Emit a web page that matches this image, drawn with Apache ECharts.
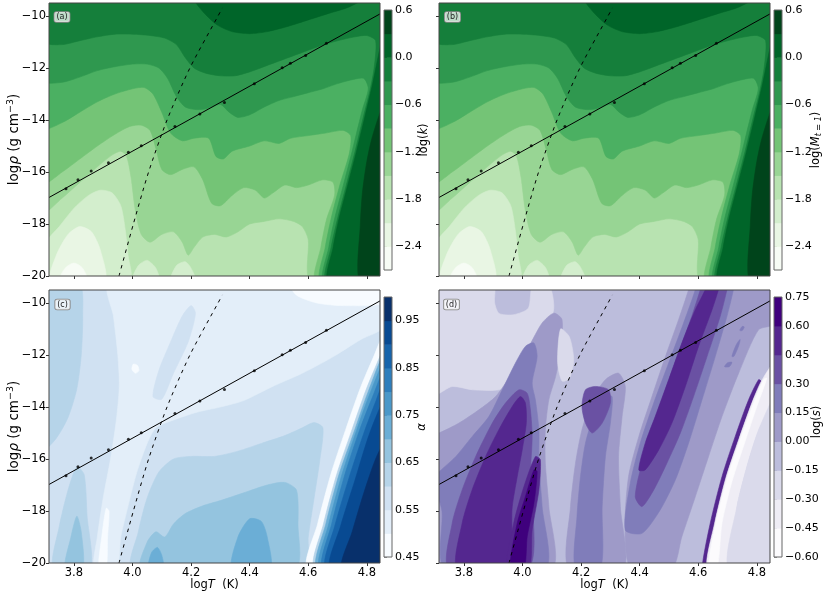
<!DOCTYPE html>
<html><head><meta charset="utf-8">
<script src="https://cdn.jsdelivr.net/npm/echarts@6.0.0/dist/echarts.min.js"></script>
<style>html,body{margin:0;padding:0;background:#fff;}#chart{width:831px;height:595px;}</style>
</head><body><div id="chart"></div>
<script>
// ---------- tick values ----------
const LOGT_TICKS = [3.8, 4.0, 4.2, 4.4, 4.6, 4.8];
const LOGRHO_TICKS = [-20, -18, -16, -14, -12, -10];

// ---------- contour levels (colorbars) ----------
const kLevels = [-2.7, -2.4, -2.1, -1.8, -1.5, -1.2, -0.9, -0.6, -0.3, 0.0, 0.3, 0.6];
const kTicks = [-2.4, -1.8, -1.2, -0.6, 0.0, 0.6];
const alphaLevels = [0.45, 0.50, 0.55, 0.60, 0.65, 0.70, 0.75, 0.80, 0.85, 0.90, 0.95, 1.00];
const alphaTicks = [0.45, 0.55, 0.65, 0.75, 0.85, 0.95];
const sLevels = [-0.60, -0.45, -0.30, -0.15, 0.00, 0.15, 0.30, 0.45, 0.60, 0.75];
const sTicks = [-0.60, -0.45, -0.30, -0.15, 0.00, 0.15, 0.30, 0.45, 0.60, 0.75];

// ---------- overlay lines ----------
const fitT = [3.715, 4.845];
const fitRho = [-16.98, -9.92];
const sampleT = [3.773, 3.814, 3.859, 3.918, 3.986, 4.030, 4.145, 4.230, 4.314, 4.416, 4.511, 4.539, 4.591, 4.662];
const sampleRho = [-16.64, -16.30, -15.96, -15.64, -15.24, -14.99, -14.25, -13.77, -13.33, -12.61, -11.99, -11.82, -11.52, -11.05];
const dashT = [3.954, 4.003, 4.055, 4.118, 4.196, 4.292, 4.307];
const dashRho = [-20.0, -18.0, -16.0, -14.0, -12.0, -10.0, -9.69];

// ---------- contour band regions: [band index, [[logT, logRho], ...]] ----------
// panel (a): log(k)
const kRegions = [
 [3, [[3.70,-9.3],[4.86,-9.3],[4.86,-20.2],[3.70,-20.2]]],
 [4, [[3.70,-9.3],[3.70,-17.5],[3.76,-17.0],[3.82,-16.4],[3.88,-15.8],[3.93,-15.35],[3.96,-15.2],[3.98,-15.4],[3.995,-16.2],[4.01,-17.5],[4.03,-18.4],[4.06,-18.7],[4.10,-18.4],[4.14,-18.3],[4.17,-18.7],[4.19,-19.2],[4.21,-18.9],[4.24,-18.5],[4.28,-18.4],[4.32,-18.5],[4.36,-18.3],[4.40,-18.0],[4.45,-17.9],[4.50,-17.8],[4.55,-17.9],[4.58,-18.1],[4.60,-18.6],[4.608,-20.2],[4.86,-20.2],[4.86,-9.3]]],
 [5, [[3.70,-9.3],[3.70,-16.4],[3.76,-16.0],[3.82,-15.5],[3.88,-15.0],[3.94,-14.55],[3.99,-14.25],[4.03,-14.2],[4.06,-14.4],[4.08,-15.1],[4.10,-15.9],[4.13,-16.1],[4.17,-15.9],[4.21,-15.8],[4.24,-16.3],[4.27,-17.2],[4.30,-17.3],[4.34,-16.9],[4.38,-16.6],[4.42,-16.7],[4.45,-17.0],[4.48,-16.8],[4.52,-16.5],[4.56,-16.6],[4.60,-16.5],[4.65,-16.3],[4.685,-16.4],[4.69,-16.9],[4.663,-17.8],[4.643,-18.9],[4.626,-20.2],[4.86,-20.2],[4.86,-9.3]]],
 [6, [[3.70,-9.3],[3.70,-14.3],[3.76,-14.1],[3.82,-13.7],[3.88,-13.3],[3.94,-13.0],[4.00,-12.8],[4.04,-12.75],[4.07,-13.0],[4.10,-13.7],[4.13,-14.5],[4.17,-14.8],[4.21,-14.7],[4.26,-14.7],[4.285,-15.4],[4.31,-15.5],[4.34,-15.2],[4.40,-15.0],[4.45,-14.8],[4.50,-14.9],[4.54,-14.7],[4.60,-14.6],[4.66,-14.5],[4.72,-14.4],[4.745,-14.6],[4.74,-15.3],[4.708,-16.5],[4.678,-17.8],[4.658,-18.9],[4.642,-20.2],[4.86,-20.2],[4.86,-9.3]]],
 [7, [[3.70,-9.3],[3.70,-12.5],[3.76,-12.55],[3.82,-12.35],[3.88,-12.1],[3.94,-11.95],[4.00,-11.85],[4.05,-11.85],[4.09,-12.0],[4.12,-12.4],[4.15,-13.1],[4.18,-13.5],[4.22,-13.6],[4.26,-13.55],[4.30,-13.4],[4.33,-13.7],[4.36,-13.9],[4.40,-13.8],[4.45,-13.5],[4.50,-13.25],[4.55,-13.1],[4.60,-12.95],[4.65,-12.8],[4.70,-12.6],[4.75,-12.45],[4.79,-12.4],[4.805,-12.8],[4.785,-13.6],[4.765,-14.5],[4.75,-15.2],[4.72,-16.5],[4.69,-17.8],[4.67,-18.9],[4.653,-20.2],[4.86,-20.2],[4.86,-9.3]]],
 [8, [[3.70,-9.3],[3.70,-11.0],[3.76,-11.1],[3.82,-10.95],[3.88,-10.8],[3.94,-10.7],[4.00,-10.7],[4.06,-10.75],[4.11,-10.85],[4.15,-11.1],[4.18,-11.6],[4.21,-12.0],[4.25,-12.2],[4.30,-12.3],[4.35,-12.3],[4.40,-12.15],[4.46,-11.9],[4.52,-11.65],[4.58,-11.4],[4.64,-11.15],[4.70,-10.95],[4.76,-10.8],[4.80,-10.75],[4.83,-10.95],[4.825,-12.0],[4.81,-12.9],[4.79,-13.8],[4.76,-15.2],[4.73,-16.5],[4.70,-17.8],[4.678,-18.9],[4.661,-20.2],[4.86,-20.2],[4.86,-9.3]]],
 [9, [[4.21,-9.3],[4.22,-9.55],[4.25,-9.95],[4.29,-10.35],[4.34,-10.6],[4.40,-10.68],[4.46,-10.6],[4.53,-10.4],[4.60,-10.15],[4.67,-9.9],[4.74,-9.65],[4.79,-9.3]]],
 [9, [[4.86,-10.6],[4.84,-11.5],[4.82,-12.6],[4.795,-13.8],[4.765,-15.2],[4.735,-16.5],[4.705,-17.8],[4.685,-18.9],[4.668,-20.2],[4.86,-20.2]]],
 [10, [[4.86,-13.4],[4.82,-14.6],[4.80,-15.6],[4.785,-16.8],[4.778,-18.0],[4.775,-20.2],[4.86,-20.2]]],
 [2, [[3.70,-18.8],[3.75,-18.1],[3.80,-17.4],[3.85,-16.9],[3.89,-16.7],[3.93,-16.8],[3.96,-17.3],[3.975,-18.2],[3.985,-19.2],[3.99,-20.2],[3.70,-20.2]]],
 [2, [[4.00,-20.2],[4.02,-19.6],[4.05,-19.4],[4.08,-19.7],[4.09,-20.2]]],
 [2, [[4.13,-20.2],[4.15,-19.6],[4.18,-19.45],[4.20,-19.7],[4.215,-20.2]]],
 [1, [[3.72,-20.2],[3.74,-19.2],[3.78,-18.4],[3.82,-18.1],[3.86,-18.3],[3.89,-19.0],[3.905,-20.2]]],
 [0, [[3.75,-20.2],[3.77,-19.7],[3.80,-19.5],[3.83,-19.7],[3.845,-20.2]]]
];
// panel (b): log(M_t=1) reads the same as panel (a)
const mRegions = kRegions;

// panel (c): alpha
const alphaRegions = [
 [2, [[3.70,-9.3],[4.86,-9.3],[4.86,-20.2],[3.70,-20.2]]],
 [3, [[3.70,-9.3],[3.82,-9.3],[3.83,-10.5],[3.825,-12.0],[3.81,-13.3],[3.78,-14.4],[3.74,-15.2],[3.70,-15.6]]],
 [3, [[3.73,-20.2],[3.75,-18.6],[3.78,-17.2],[3.81,-16.3],[3.835,-16.6],[3.845,-18.2],[3.855,-20.2]]],
 [4, [[3.77,-20.2],[3.79,-19.0],[3.81,-18.2],[3.825,-18.8],[3.83,-20.2]]],
 [1, [[3.92,-9.3],[4.86,-9.3],[4.86,-10.9],[4.78,-11.4],[4.68,-12.1],[4.58,-12.7],[4.48,-13.2],[4.38,-13.75],[4.30,-14.0],[4.22,-14.2],[4.14,-14.5],[4.08,-14.8],[4.05,-15.4],[4.015,-16.5],[3.985,-17.8],[3.96,-19.0],[3.945,-20.2],[3.87,-20.2],[3.88,-19.0],[3.90,-17.5],[3.925,-16.0],[3.945,-14.5],[3.955,-13.2],[3.95,-12.0],[3.935,-10.5]]],
 [0, [[3.885,-20.2],[3.895,-19.0],[3.91,-17.9],[3.92,-18.0],[3.915,-19.0],[3.91,-20.2]]],
 [2, [[4.07,-13.6],[4.09,-12.6],[4.13,-11.5],[4.17,-10.5],[4.20,-10.1],[4.215,-10.4],[4.19,-11.5],[4.14,-12.7],[4.10,-13.7]]],
 [0, [[4.54,-9.3],[4.56,-9.7],[4.63,-10.0],[4.72,-10.1],[4.86,-10.0],[4.86,-9.3]]],
 [0, [[4.003,-12.35],[4.017,-12.4],[4.022,-12.6],[4.01,-12.7],[3.998,-12.55]]],
 [3, [[4.00,-20.2],[4.02,-18.8],[4.05,-17.5],[4.09,-16.5],[4.14,-16.0],[4.20,-15.9],[4.28,-15.9],[4.36,-15.7],[4.44,-15.4],[4.52,-15.1],[4.58,-14.8],[4.62,-14.6],[4.65,-14.8],[4.64,-16.0],[4.62,-17.5],[4.60,-19.0],[4.59,-20.2]]],
 [4, [[4.03,-20.2],[4.05,-19.2],[4.08,-18.8],[4.11,-19.0],[4.14,-18.5],[4.18,-18.1],[4.24,-17.8],[4.30,-17.6],[4.38,-17.3],[4.46,-17.0],[4.52,-16.9],[4.56,-17.2],[4.565,-18.5],[4.555,-20.2]]],
 [5, [[4.055,-20.2],[4.065,-19.6],[4.085,-19.4],[4.10,-19.7],[4.105,-20.2]]],
 [5, [[4.34,-20.2],[4.36,-19.0],[4.40,-18.3],[4.44,-18.4],[4.46,-19.0],[4.47,-20.2]]],
 [0, [[4.598,-20.2],[4.632,-18.5],[4.677,-16.6],[4.727,-14.9],[4.777,-13.3],[4.822,-12.1],[4.86,-11.2],[4.86,-20.2]]],
 [3, [[4.622,-20.2],[4.652,-18.5],[4.697,-16.6],[4.747,-14.95],[4.797,-13.35],[4.845,-12.05],[4.86,-11.7],[4.86,-20.2]]],
 [5, [[4.63,-20.2],[4.66,-18.5],[4.705,-16.6],[4.755,-15.0],[4.805,-13.4],[4.86,-12.0],[4.86,-20.2]]],
 [6, [[4.64,-20.2],[4.67,-18.5],[4.715,-16.6],[4.765,-14.9],[4.81,-13.5],[4.86,-12.3],[4.86,-20.2]]],
 [7, [[4.65,-20.2],[4.68,-18.5],[4.725,-16.6],[4.775,-14.9],[4.82,-13.6],[4.86,-12.6],[4.86,-20.2]]],
 [8, [[4.66,-20.2],[4.69,-18.6],[4.74,-16.7],[4.79,-15.0],[4.83,-13.8],[4.86,-13.0],[4.86,-20.2]]],
 [9, [[4.675,-20.2],[4.71,-18.6],[4.76,-16.8],[4.81,-15.0],[4.86,-13.8],[4.86,-20.2]]],
 [10, [[4.715,-20.2],[4.75,-18.8],[4.79,-17.3],[4.83,-16.0],[4.86,-15.4],[4.86,-20.2]]]
];

// panel (d): log(s)
const sRegions = [
 [3, [[3.70,-9.3],[4.86,-9.3],[4.86,-20.2],[3.70,-20.2]]],
 [2, [[3.70,-9.3],[3.90,-9.3],[3.905,-10.0],[3.92,-10.4],[3.97,-10.45],[4.02,-10.2],[4.035,-9.3],[4.09,-9.3],[4.107,-10.13],[4.09,-11.03],[4.056,-12.06],[4.0,-12.95],[3.92,-13.34],[3.83,-13.34],[3.76,-13.21],[3.70,-13.5]]],
 [4, [[3.70,-15.0],[3.715,-15.0],[3.783,-14.62],[3.851,-14.11],[3.908,-13.6],[3.965,-12.7],[4.022,-11.67],[4.067,-10.77],[4.107,-10.39],[4.135,-10.64],[4.13,-11.8],[4.113,-12.83],[4.09,-13.72],[4.078,-14.88],[4.078,-16.16],[4.09,-17.83],[4.10,-20.2],[3.70,-20.2]]],
 [5, [[3.70,-16.68],[3.772,-15.91],[3.828,-15.14],[3.885,-14.37],[3.931,-13.34],[3.976,-12.31],[4.01,-11.67],[4.039,-11.54],[4.05,-12.06],[4.033,-13.08],[4.044,-13.72],[4.056,-14.88],[4.056,-16.16],[4.067,-17.83],[4.078,-20.2],[3.735,-20.2],[3.725,-18.0],[3.70,-17.0]]],
 [6, [[3.749,-20.2],[3.76,-18.47],[3.794,-17.19],[3.84,-15.91],[3.897,-14.62],[3.942,-13.85],[3.988,-13.34],[4.016,-13.47],[4.027,-14.11],[4.033,-15.14],[4.027,-16.55],[4.022,-20.2]]],
 [7, [[3.777,-20.2],[3.794,-18.47],[3.828,-17.19],[3.874,-15.91],[3.919,-14.88],[3.965,-13.98],[3.993,-13.6],[4.01,-13.85],[4.013,-14.62],[3.999,-15.65],[3.982,-16.68],[3.965,-17.83],[3.948,-20.2]]],
 [7, [[3.948,-20.2],[3.97,-18.47],[4.005,-17.06],[4.044,-15.91],[4.061,-16.03],[4.056,-17.19],[4.033,-18.73],[4.022,-20.2]]],
 [8, [[3.959,-20.2],[3.982,-18.47],[4.01,-17.45],[4.039,-16.42],[4.05,-16.48],[4.039,-17.7],[4.016,-18.99],[4.005,-20.2]]],
 [2, [[4.13,-11.0],[4.16,-11.3],[4.175,-12.2],[4.16,-12.9],[4.135,-13.0],[4.12,-12.3]]],
 [4, [[4.158,-20.2],[4.164,-17.83],[4.181,-16.16],[4.203,-14.88],[4.238,-13.72],[4.283,-12.95],[4.328,-12.7],[4.351,-13.21],[4.34,-14.37],[4.328,-15.91],[4.334,-17.83],[4.345,-20.2]]],
 [5, [[4.181,-20.2],[4.186,-18.22],[4.198,-16.68],[4.215,-15.39],[4.243,-14.37],[4.283,-13.6],[4.306,-13.6],[4.30,-14.62],[4.283,-15.91],[4.272,-17.83],[4.266,-20.2]]],
 [6, [[4.203,-13.98],[4.215,-13.34],[4.249,-13.21],[4.294,-13.34],[4.30,-13.85],[4.272,-14.62],[4.238,-15.0],[4.215,-14.62]]],
 [4, [[4.37,-20.2],[4.35,-18.6],[4.362,-16.68],[4.397,-15.14],[4.442,-13.6],[4.488,-12.06],[4.533,-10.64],[4.567,-9.49],[4.57,-9.3],[4.86,-9.3],[4.86,-10.8],[4.806,-11.03],[4.738,-12.7],[4.681,-14.37],[4.635,-15.91],[4.59,-17.45],[4.544,-18.99],[4.51,-20.2]]],
 [5, [[4.351,-18.73],[4.368,-16.93],[4.402,-15.39],[4.448,-13.85],[4.499,-12.31],[4.55,-10.77],[4.59,-9.49],[4.59,-9.3],[4.72,-9.3],[4.72,-9.49],[4.698,-10.51],[4.658,-12.06],[4.613,-13.72],[4.567,-15.39],[4.522,-16.8],[4.47,-17.96],[4.408,-18.86]]],
 [6, [[4.385,-17.45],[4.408,-16.16],[4.442,-14.88],[4.488,-13.34],[4.533,-11.93],[4.578,-10.51],[4.607,-9.49],[4.61,-9.3],[4.70,-9.3],[4.698,-9.49],[4.675,-10.51],[4.63,-12.06],[4.584,-13.6],[4.539,-15.0],[4.493,-16.16],[4.448,-17.19],[4.408,-17.83]]],
 [7, [[4.397,-16.42],[4.419,-15.39],[4.453,-14.37],[4.499,-12.95],[4.544,-11.54],[4.59,-10.26],[4.624,-9.49],[4.627,-9.3],[4.672,-9.3],[4.669,-9.49],[4.647,-10.26],[4.601,-11.67],[4.556,-13.21],[4.51,-14.62],[4.465,-15.65],[4.419,-16.42]]],
 [7, [[4.613,-20.2],[4.641,-18.47],[4.681,-16.68],[4.726,-15.14],[4.772,-13.72],[4.806,-12.95],[4.815,-13.02],[4.783,-13.85],[4.738,-15.26],[4.694,-16.74],[4.656,-18.47],[4.63,-20.2]]],
 [1, [[4.63,-20.2],[4.656,-18.47],[4.694,-16.74],[4.738,-15.26],[4.783,-13.85],[4.815,-13.02],[4.86,-12.3],[4.86,-13.7],[4.806,-14.88],[4.766,-16.29],[4.732,-17.83],[4.703,-20.2]]],
 [0, [[4.635,-20.2],[4.66,-18.47],[4.699,-16.74],[4.743,-15.26],[4.789,-13.85],[4.823,-12.95],[4.834,-12.89],[4.80,-13.98],[4.758,-15.39],[4.715,-16.87],[4.681,-18.47],[4.664,-20.2]]],
 [2, [[4.703,-20.2],[4.732,-17.83],[4.766,-16.29],[4.806,-14.88],[4.86,-13.7],[4.86,-20.2]]],
 [5, [[4.69,-12.45],[4.70,-12.3],[4.715,-12.28],[4.706,-12.45]]],
 [5, [[4.715,-12.05],[4.73,-11.6],[4.743,-11.4],[4.738,-11.65],[4.722,-12.05]]],
 [5, [[4.742,-11.05],[4.75,-10.9],[4.757,-10.92],[4.75,-11.06]]]
];

// ---------- colour maps (matplotlib Greens / Blues / Purples at level positions) ----------
const GREENS = ['#f7fcf5','#e9f6e4','#d3eecd','#b8e3b1','#98d594','#74c476','#4bb062','#2f984f','#157f3b','#006529','#00441b'];
const BLUES = ['#f7fbff','#e3eef9','#d0e1f2','#b6d4e9','#94c4df','#6baed6','#4a98c9','#2e7ebc','#1764ab','#084a92','#08306b'];
const PURPLES = ['#fcfbfd','#efedf5','#dadaeb','#bcbddc','#9e9ac8','#807dba','#6a51a3','#54278f','#3f007d'];

// ---------- layout ----------
const FONT = 'DejaVu Sans';
const minus = s => s.replace('-', '\u2212');
const PANELS = [
  {left: 49,  top: 3,   regions: kRegions,     colors: GREENS,  xl: false, yl: true},
  {left: 439, top: 3,   regions: mRegions,     colors: GREENS,  xl: false, yl: false},
  {left: 49,  top: 290, regions: alphaRegions, colors: BLUES,   xl: true,  yl: true},
  {left: 439, top: 290, regions: sRegions,     colors: PURPLES, xl: true,  yl: false}
];
const BARS = [
  {left: 384, top: 10,  levels: kLevels,     ticks: kTicks,     colors: GREENS,  dec: 1},
  {left: 774, top: 10,  levels: kLevels,     ticks: kTicks,     colors: GREENS,  dec: 1},
  {left: 384, top: 297, levels: alphaLevels, ticks: alphaTicks, colors: BLUES,   dec: 2},
  {left: 774, top: 297, levels: sLevels,     ticks: sTicks,     colors: PURPLES, dec: 2}
];

const grids = [], xAxes = [], yAxes = [], series = [];

PANELS.forEach((p, i) => {
  grids.push({left: p.left, top: p.top, width: 331, height: 273, show: true,
    borderColor: '#444', borderWidth: 1, backgroundColor: 'transparent', z: 5, outerBoundsMode: 'none', containLabel: false});
  xAxes.push({type: 'value', gridIndex: i, min: 3.715, max: 4.845,
    axisLine: {show: false}, splitLine: {show: false},
    axisTick: {show: true, length: 3, customValues: LOGT_TICKS, lineStyle: {color: '#333', width: 1}},
    axisLabel: {show: p.xl, customValues: LOGT_TICKS, formatter: v => v.toFixed(1),
      fontSize: 11.5, fontFamily: FONT, color: '#000', margin: 4}});
  yAxes.push({type: 'value', gridIndex: i, min: -20, max: -9.5,
    axisLine: {show: false}, splitLine: {show: false},
    axisTick: {show: true, length: 3, customValues: LOGRHO_TICKS, lineStyle: {color: '#333', width: 1}},
    axisLabel: {show: p.yl, customValues: LOGRHO_TICKS, formatter: v => minus(String(Math.round(v))),
      fontSize: 11.5, fontFamily: FONT, color: '#000', margin: 3}});
  const regs = p.regions, cols = p.colors;
  series.push({
    type: 'custom', xAxisIndex: i, yAxisIndex: i, clip: true, silent: true, z: 1,
    data: regs.map((r, k) => [r[1][0][0], r[1][0][1], k]),
    renderItem: (params, api) => {
      const k = api.value(2);
      const reg = regs[k];
      const pts = reg[1].map(q => api.coord(q));
      const c = cols[reg[0]];
      return {type: 'polygon', z2: k, shape: {points: pts, smooth: 0.25},
        style: {fill: c, stroke: c, lineWidth: 0.6}};
    }
  });
  series.push({type: 'line', xAxisIndex: i, yAxisIndex: i, z: 3, silent: true,
    data: fitT.map((t, j) => [t, fitRho[j]]), symbol: 'none',
    lineStyle: {color: '#000', width: 1}});
  series.push({type: 'line', xAxisIndex: i, yAxisIndex: i, z: 3, silent: true, smooth: 0.25,
    data: dashT.map((t, j) => [t, dashRho[j]]), symbol: 'none',
    lineStyle: {color: '#000', width: 1, type: [3.5, 4.5]}});
  series.push({type: 'scatter', xAxisIndex: i, yAxisIndex: i, z: 4, silent: true,
    data: sampleT.map((t, j) => [t, sampleRho[j]]), symbol: 'circle', symbolSize: 3,
    itemStyle: {color: '#000'}});
});

BARS.forEach((b, j) => {
  const gi = 4 + j;
  const lv = b.levels, cols = b.colors;
  grids.push({left: b.left, top: b.top, width: 8, height: 260, show: true,
    borderColor: '#666', borderWidth: 1, backgroundColor: 'transparent', z: 5, outerBoundsMode: 'none', containLabel: false});
  xAxes.push({type: 'value', gridIndex: gi, min: 0, max: 1, show: false});
  const fmt = v => minus((Math.abs(v) < 1e-9 ? 0 : v).toFixed(b.dec));
  yAxes.push({type: 'value', gridIndex: gi, position: 'right', min: lv[0], max: lv[lv.length - 1],
    axisLine: {show: false}, splitLine: {show: false},
    axisTick: {show: true, length: 3, customValues: b.ticks, lineStyle: {color: '#333', width: 1}},
    axisLabel: {show: true, customValues: b.ticks, formatter: fmt,
      fontSize: 11, fontFamily: FONT, color: '#000', margin: 3}});
  series.push({
    type: 'custom', xAxisIndex: gi, yAxisIndex: gi, silent: true, z: 1,
    data: lv.slice(0, -1).map((v, k) => [0.5, (v + lv[k + 1]) / 2, k]),
    renderItem: (params, api) => {
      const k = api.value(2);
      const p0 = api.coord([0, lv[k]]);
      const p1 = api.coord([1, lv[k + 1]]);
      return {type: 'rect', shape: {x: p0[0], y: p1[1], width: p1[0] - p0[0], height: p0[1] - p1[1] + 0.5},
        style: {fill: cols[k]}};
    }
  });
});

// ---------- texts ----------
const baseRich = (fs) => ({
  n: {fontSize: fs, fontFamily: FONT, fill: '#000', lineHeight: fs + 3},
  i: {fontSize: fs, fontFamily: FONT, fontStyle: 'italic', fill: '#000', lineHeight: fs + 3},
  sup: {fontSize: fs * 0.7, fontFamily: FONT, fill: '#000', lineHeight: fs * 0.55, verticalAlign: 'top'},
  sub: {fontSize: fs * 0.7, fontFamily: FONT, fontStyle: 'italic', fill: '#000', lineHeight: fs * 0.55, verticalAlign: 'bottom'}
});
const vText = (x, y, text, fs) => ({type: 'text', x: x, y: y, rotation: Math.PI / 2, z: 20,
  style: {text: text, align: 'center', verticalAlign: 'middle', fontSize: fs, fontFamily: FONT, fill: '#000', rich: baseRich(fs)}});
const hText = (x, y, text, fs) => ({type: 'text', x: x, y: y, z: 20,
  style: {text: text, align: 'center', verticalAlign: 'middle', fontSize: fs, fontFamily: FONT, fill: '#000', rich: baseRich(fs)}});
const tag = (x, y, t) => ({type: 'text', x: x, y: y, z: 30,
  style: {text: t, align: 'center', verticalAlign: 'middle', fontSize: 8, fontFamily: FONT, fill: '#222',
    backgroundColor: 'rgba(255,255,255,0.72)', borderColor: '#888', borderWidth: 0.8, borderRadius: 2, padding: [1, 2, 1, 2]}});

const graphics = [
  vText(14, 139.5, '{n|log}{i|ρ}{n| (g cm}{sup|−3}{n|)}', 13.5),
  vText(14, 426.5, '{n|log}{i|ρ}{n| (g cm}{sup|−3}{n|)}', 13.5),
  hText(214.5, 585, '{n|log}{i|T}{n|  (K)}', 11.5),
  hText(604.5, 585, '{n|log}{i|T}{n|  (K)}', 11.5),
  vText(424, 140, '{n|log(}{i|k}{n|)}', 11.5),
  vText(816, 140, '{n|log(}{i|M}{sub|t = 1}{n|)}', 11.5),
  vText(422, 427, '{i|α}', 11.5),
  vText(817, 422, '{n|log(}{i|s}{n|)}', 11.5),
  tag(62, 17, '(a)'),
  tag(452.5, 17, '(b)'),
  tag(62.5, 304.5, '(c)'),
  tag(451.5, 304.5, '(d)')
];

const chart = echarts.init(document.getElementById('chart'), null, {renderer: 'canvas'});
chart.setOption({
  animation: false,
  backgroundColor: '#fff',
  grid: grids,
  xAxis: xAxes,
  yAxis: yAxes,
  series: series,
  graphic: graphics
});
</script></body></html>
